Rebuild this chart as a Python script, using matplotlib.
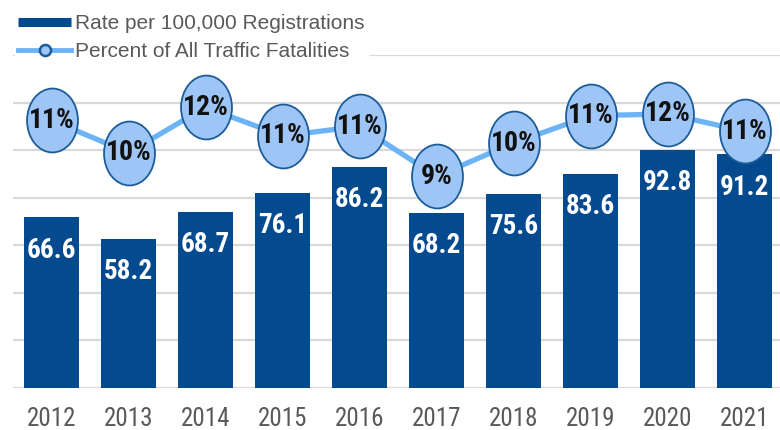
import matplotlib
matplotlib.use("Agg")
import matplotlib.pyplot as plt
import numpy as np
from matplotlib.path import Path
from matplotlib.lines import Line2D
from matplotlib.transforms import Affine2D
from matplotlib import font_manager as fm

years = ["2012", "2013", "2014", "2015", "2016", "2017", "2018", "2019", "2020", "2021"]
rates = [66.6, 58.2, 68.7, 76.1, 86.2, 68.2, 75.6, 83.6, 92.8, 91.2]
pct = [11.25, 9.9, 11.8, 10.6, 11.0, 8.9, 10.3, 11.45, 11.52, 10.8]

BAR = "#044a8e"
LINE = "#6cb4f5"
MFILL = "#9dc6f6"
MEDGE = "#1d5c9a"
GRID = "#d9d9d9"
TXT = "#595959"

WMAP = {"bold": 700, "heavy": 800, "black": 900, "semibold": 600, "demibold": 600,
        "extra bold": 800, "ultrabold": 800}


def wnum(w):
    if isinstance(w, (int, float)):
        return w
    return WMAP.get(str(w).lower(), 400)


faces = {}
for f in fm.fontManager.ttflist:
    faces.setdefault(f.name, []).append(wnum(f.weight))

PREFS = ["Liberation Sans Narrow", "Arial Narrow", "Roboto Condensed", "Archivo Narrow",
         "PT Sans Narrow", "IBM Plex Sans Condensed"]


def pick(prefs, default, bold=False):
    for p in prefs:
        if p in faces and (not bold or any(w >= 650 for w in faces[p])):
            return p
    return default


NARROW = [pick(PREFS, "Liberation Sans"), "DejaVu Sans"]
NARROW_B = [pick(PREFS, "Liberation Sans", bold=True), "DejaVu Sans"]
REG = [pick(["Liberation Sans", "Arimo", "Arial"], "DejaVu Sans"), "DejaVu Sans"]

fig = plt.figure(figsize=(7.8, 4.3), dpi=100)
ax = fig.add_axes([13 / 780, 42 / 430, 770 / 780, 333 / 430])
ax2 = ax.twinx()

x = np.arange(len(years))
PMAX = 14
RMAX = 130
ax.set_ylim(0, RMAX)
ax2.set_ylim(0, PMAX)
ax.set_xlim(-0.5, len(years) - 0.5)

ax.set_yticks(np.arange(0, PMAX + 1, 2) * RMAX / PMAX)
ax.yaxis.grid(True, color=GRID, linewidth=1.6, zorder=0)
ax.set_axisbelow(True)
ax.tick_params(axis="y", left=False, labelleft=False)
ax2.tick_params(axis="y", right=False, labelright=False)
ax2.set_yticks([])
for a in (ax, ax2):
    for s in a.spines.values():
        s.set_visible(False)

ax.bar(x, rates, width=0.72, color=BAR, zorder=2)
for xi, r in zip(x, rates):
    ax.annotate(f"{r:.1f}", (xi, r), xytext=(0, -23.5), textcoords="offset points",
                ha="center", va="center", color="white", fontsize=19.5,
                fontweight="bold", family=NARROW_B, zorder=3)

ax.set_xticks(x)
ax.set_xticklabels(years, fontsize=18, color=TXT, family=NARROW)
ax.tick_params(axis="x", length=0, pad=14)

circ = Path.unit_circle()
ell = circ.transformed(Affine2D().scale(51 / 64, 1.0))
ax2.plot(x, pct, color=LINE, linewidth=3.8, marker=ell, markersize=46,
         markerfacecolor=MFILL, markeredgecolor=MEDGE, markeredgewidth=1.3, zorder=4)
for xi, p in zip(x, pct):
    ax2.text(xi, p, f"{p:.0f}%", ha="center", va="center", fontsize=20,
             fontweight="bold", family=NARROW_B, color="#111111", zorder=5)

h1 = Line2D([], [], color=BAR, linewidth=6.5, solid_capstyle="butt")
h2 = Line2D([], [], color=LINE, linewidth=3.5, marker="o", markersize=8,
            markerfacecolor=MFILL, markeredgecolor=MEDGE, markeredgewidth=1.8)
leg = fig.legend([h1, h2], ["Rate per 100,000 Registrations", "Percent of All Traffic Fatalities"],
                 loc="upper left", bbox_to_anchor=(15 / 780, 1 - 11 / 430),
                 frameon=True, fancybox=False, borderpad=0.15, borderaxespad=0,
                 handlelength=2.55, handletextpad=0.2, labelspacing=0.42,
                 prop={"family": REG, "size": 15})
leg.get_frame().set_edgecolor("white")
leg.get_frame().set_facecolor("white")
leg.get_frame().set_alpha(1)
for t in leg.get_texts():
    t.set_color(TXT)

fig.savefig("out.png", dpi=100)
